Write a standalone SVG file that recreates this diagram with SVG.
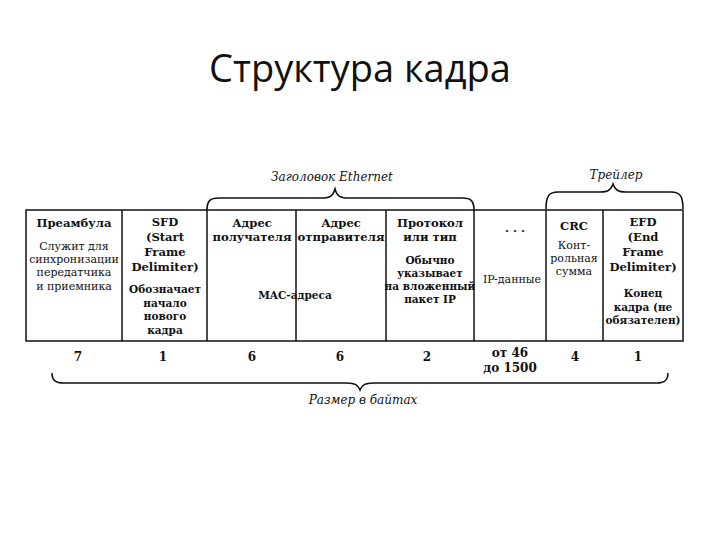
<svg xmlns="http://www.w3.org/2000/svg" width="720" height="540" viewBox="0 0 720 540">
<style>
.t{font-family:"DejaVu Serif","Liberation Serif",serif;fill:#111;text-anchor:middle}
.h{font-size:11.6px;font-weight:bold}
.d{font-size:11px}
.db{font-size:10.5px;font-weight:bold}
.i{font-size:12px;font-style:italic}
.n{font-size:12px;font-weight:bold}
.ln{stroke:#111;stroke-width:1.5;fill:none}
.br{stroke:#111;stroke-width:1.6;fill:none}
</style>
<rect width="720" height="540" fill="#fff"/>
<text x="360" y="82" font-family="'Open Sans','Noto Sans',sans-serif" font-size="38" text-anchor="middle" fill="#111">Структура кадра</text>

<g id="connectors">
<rect class="ln" x="26" y="210" width="657" height="131"/>
<line class="ln" x1="122" y1="210" x2="122" y2="341"/>
<line class="ln" x1="207" y1="210" x2="207" y2="341"/>
<line class="ln" x1="296" y1="210" x2="296" y2="341"/>
<line class="ln" x1="386" y1="210" x2="386" y2="341"/>
<line class="ln" x1="474" y1="210" x2="474" y2="341"/>
<line class="ln" x1="546" y1="210" x2="546" y2="341"/>
<line class="ln" x1="603" y1="210" x2="603" y2="341"/>
<path class="br" d="M207,210 C207,201 210,198 219,198 L322,198 C330,198 333,196 335,189 C337,196 340,198 348,198 L462,198 C471,198 474,201 474,210"/>
<path class="br" d="M546,209 C546,196 549,192 558,192 L600,192 C608,192 611,190 613,184 C615,190 618,192 626,192 L671,192 C680,192 683,196 683,209"/>
<path class="br" stroke-width="2" d="M52,373 C52,380 55,383 64,383 L347,383 C355,383 358,385 360,390 C362,385 365,383 373,383 L657,383 C665,383 668,380 668,373"/>
</g>

<g id="labels">
<text class="t i" x="332" y="181">Заголовок Ethernet</text>
<text class="t i" x="616" y="179">Трейлер</text>
<text class="t i" x="363" y="404">Размер в байтах</text>
</g>

<g id="preamble">
<text class="t h" x="74" y="227">Преамбула</text>
<text class="t d" x="74" y="250">Служит для</text>
<text class="t d" x="74" y="263">синхронизации</text>
<text class="t d" x="74" y="276">передатчика</text>
<text class="t d" x="74" y="290">и приемника</text>
<text class="t n" x="78" y="361">7</text>
</g>

<g id="sfd">
<text class="t h" x="165" y="226">SFD</text>
<text class="t h" x="165" y="241">(Start</text>
<text class="t h" x="165" y="256">Frame</text>
<text class="t h" x="165" y="271">Delimiter)</text>
<text class="t db" x="165" y="293">Обозначает</text>
<text class="t db" x="165" y="307">начало</text>
<text class="t db" x="165" y="320">нового</text>
<text class="t db" x="165" y="334">кадра</text>
<text class="t n" x="163" y="361">1</text>
</g>

<g id="dst">
<text class="t h" x="252" y="227">Адрес</text>
<text class="t h" x="252" y="241">получателя</text>
<text class="t n" x="252" y="361">6</text>
</g>

<g id="src">
<text class="t h" x="341" y="227">Адрес</text>
<text class="t h" x="341" y="241">отправителя</text>
<text class="t n" x="340" y="361">6</text>
</g>

<g id="mac">
<text class="t db" x="295" y="299" font-size="11">MAC-адреса</text>
</g>

<g id="type">
<text class="t h" x="430" y="227">Протокол</text>
<text class="t h" x="430" y="241">или тип</text>
<text class="t db" x="430" y="264">Обычно</text>
<text class="t db" x="430" y="277">указывает</text>
<text class="t db" x="430" y="290">на вложенный</text>
<text class="t db" x="430" y="303">пакет IP</text>
<text class="t n" x="427" y="361">2</text>
</g>

<g id="data">
<text class="t h" x="515" y="235">· · ·</text>
<text class="t d" x="512" y="283">IP-данные</text>
<text class="t n" x="510" y="357">от 46</text>
<text class="t n" x="510" y="372">до 1500</text>
</g>

<g id="crc">
<text class="t h" x="574" y="230">CRC</text>
<text class="t d" x="574" y="249">Конт-</text>
<text class="t d" x="574" y="262">рольная</text>
<text class="t d" x="574" y="275">сумма</text>
<text class="t n" x="575" y="361">4</text>
</g>

<g id="efd">
<text class="t h" x="643" y="226">EFD</text>
<text class="t h" x="643" y="241">(End</text>
<text class="t h" x="643" y="256">Frame</text>
<text class="t h" x="643" y="271">Delimiter)</text>
<text class="t db" x="643" y="297">Конец</text>
<text class="t db" x="643" y="311">кадра (не</text>
<text class="t db" x="643" y="324">обязателен)</text>
<text class="t n" x="638" y="361">1</text>
</g>
</svg>
